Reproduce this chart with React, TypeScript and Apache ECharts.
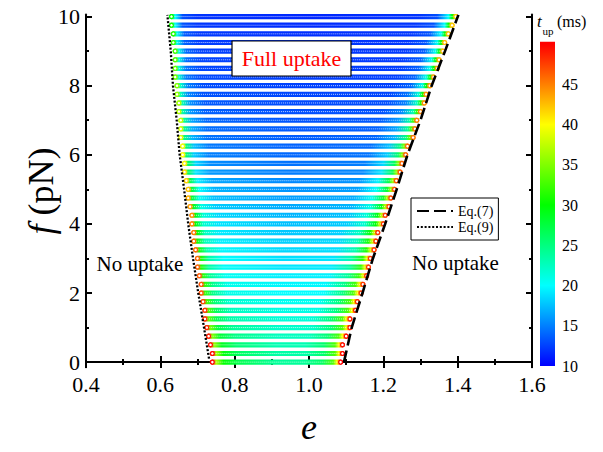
import React, { useEffect, useRef } from "react";
import * as echarts from "echarts";

const SERIF = '"Liberation Serif", "Times New Roman", serif';

// ---- data ----
// force levels of the computed rows (pN)
const fRows = [
  0, 0.25, 0.5, 0.75, 1, 1.25, 1.5, 1.75, 2, 2.25, 2.5, 2.75, 3, 3.25, 3.5, 3.75,
  4, 4.25, 4.5, 4.75, 5, 5.25, 5.5, 5.75, 6, 6.25, 6.5, 6.75, 7, 7.25, 7.5, 7.75,
  8, 8.25, 8.5, 8.75, 9, 9.25, 9.5, 9.75, 10,
];
// first (left-most) computed e of each row
const leftE = [
  0.74, 0.74, 0.735, 0.73, 0.725, 0.72, 0.72, 0.715, 0.71, 0.71, 0.705, 0.7, 0.7,
  0.695, 0.69, 0.69, 0.685, 0.685, 0.68, 0.675, 0.675, 0.67, 0.665, 0.665, 0.66,
  0.66, 0.655, 0.655, 0.655, 0.65, 0.65, 0.645, 0.645, 0.64, 0.64, 0.64, 0.64,
  0.635, 0.635, 0.63, 0.63,
];
// last (right-most) computed e of each row
const rightE = [
  1.085, 1.09, 1.09, 1.1, 1.11, 1.11, 1.125, 1.13, 1.14, 1.145, 1.155, 1.16, 1.165,
  1.175, 1.18, 1.185, 1.2, 1.205, 1.215, 1.22, 1.23, 1.235, 1.245, 1.25, 1.26,
  1.265, 1.28, 1.285, 1.29, 1.3, 1.31, 1.315, 1.325, 1.335, 1.345, 1.35, 1.36,
  1.365, 1.375, 1.385, 1.395,
];

// t_up (ms) readings at a few force levels along each row
const tUpLevelsF = [0, 2, 4, 6, 8, 10];
const tUpLeftEdge = [50, 47, 45, 40, 35, 30];
const tUpLeftIn1 = [37, 32, 30, 26, 22, 20];
const tUpLeftIn3 = [30, 25, 22, 18, 15, 13];
const tUpLeftIn7 = [27, 21, 19, 15, 13, 12];
const tUpMiddle = [24, 20, 17.5, 14, 12.5, 11.5];
const tUpRightIn10 = [24, 20, 18, 14.5, 12.5, 12];
const tUpRightIn5 = [26, 25, 22, 18, 14, 13];
const tUpRightIn2 = [33, 33, 30, 26, 21, 20];
const tUpRightIn1 = [40, 40, 38, 35, 30, 30];
const tUpRightEdge = [50, 48, 48, 46, 44, 42];

// Eq.(7) boundary
const eq7F = [0, 1, 2, 3, 4, 5, 6, 7, 8, 9, 10.05];
const eq7E = [1.094, 1.115, 1.144, 1.172, 1.205, 1.236, 1.265, 1.3, 1.33, 1.366, 1.402];
// Eq.(9) boundary
const eq9F = [0.1, 1, 2, 3, 4, 5, 6, 7, 8, 9, 10.05];
const eq9E = [0.731, 0.7175, 0.702, 0.688, 0.675, 0.664, 0.652, 0.644, 0.634, 0.628, 0.619];

// colour bar
const cbTicks = [10, 15, 20, 25, 30, 35, 40, 45];
const cbMin = 10;
const cbMax = 50.3;
const xTickMin = 0.4;
const xTickMax = 1.6;
const yMajor = [0, 2, 4, 6, 8, 10];
const yMinor = [1, 3, 5, 7, 9];

// colormap
const cmapT = [10, 20, 30, 40, 50];
const cmapRGB = [
  [0, 0, 255],
  [0, 255, 255],
  [0, 255, 0],
  [255, 255, 0],
  [255, 0, 0],
];

function colorOf(t: number): string {
  if (t <= cmapT[0]) return `rgb(${cmapRGB[0].join(",")})`;
  for (let i = 0; i < cmapT.length - 1; i++) {
    if (t <= cmapT[i + 1]) {
      const a = (t - cmapT[i]) / (cmapT[i + 1] - cmapT[i]);
      const c = cmapRGB[i].map((v, k) => Math.round(v + a * (cmapRGB[i + 1][k] - v)));
      return `rgb(${c.join(",")})`;
    }
  }
  return `rgb(${cmapRGB[cmapRGB.length - 1].join(",")})`;
}

function atLevel(arr: number[], f: number): number {
  if (f <= tUpLevelsF[0]) return arr[0];
  for (let i = 0; i < tUpLevelsF.length - 1; i++) {
    if (f <= tUpLevelsF[i + 1]) {
      const a = (f - tUpLevelsF[i]) / (tUpLevelsF[i + 1] - tUpLevelsF[i]);
      return arr[i] + a * (arr[i + 1] - arr[i]);
    }
  }
  return arr[arr.length - 1];
}

export default function App() {
  const ref = useRef<HTMLDivElement>(null);
  useEffect(() => {
    if (!ref.current) return;
    const chart = echarts.init(ref.current, null, { renderer: "svg" });

    const rowData = fRows.map((f, i) => [f, leftE[i], rightE[i]]);

    const renderItem = (params: any, api: any) => {
      const f = api.value(0) as number;
      const eL = api.value(1) as number;
      const eR = api.value(2) as number;
      const pL = api.coord([eL, f]);
      const pR = api.coord([eR, f]);
      const r = 2.6;
      const x0 = pL[0] - r;
      const x1 = pR[0] + r;
      const w = x1 - x0;
      const knots: [number, number][] = [
        [eL, atLevel(tUpLeftEdge, f)],
        [eL + 0.01, atLevel(tUpLeftIn1, f)],
        [eL + 0.03, atLevel(tUpLeftIn3, f)],
        [eL + 0.07, atLevel(tUpLeftIn7, f)],
        [(eL + eR) / 2, atLevel(tUpMiddle, f)],
        [eR - 0.1, atLevel(tUpRightIn10, f)],
        [eR - 0.05, atLevel(tUpRightIn5, f)],
        [eR - 0.02, atLevel(tUpRightIn2, f)],
        [eR - 0.01, atLevel(tUpRightIn1, f)],
        [eR, atLevel(tUpRightEdge, f)],
      ];
      const stops = knots.map(([e, t]) => {
        const px = api.coord([e, f])[0];
        return {
          offset: Math.min(1, Math.max(0, (px - x0) / w)),
          color: colorOf(t),
        };
      });
      const cy = pL[1];
      return {
        type: "group",
        children: [
          {
            type: "rect",
            shape: { x: x0, y: cy - r, width: w, height: 2 * r, r: r },
            style: { fill: new echarts.graphic.LinearGradient(0, 0, 1, 0, stops) },
          },
          {
            type: "line",
            shape: { x1: pL[0] + 2, y1: cy, x2: pR[0] - 2, y2: cy },
            style: { stroke: "rgba(255,255,255,0.75)", lineWidth: 1, lineDash: [1, 1] },
          },
          {
            type: "circle",
            shape: { cx: pL[0], cy, r: 1.9 },
            style: { fill: "#fff", stroke: stops[0].color, lineWidth: 1.3 },
          },
          {
            type: "circle",
            shape: { cx: pR[0], cy, r: 1.9 },
            style: { fill: "#fff", stroke: stops[stops.length - 1].color, lineWidth: 1.3 },
          },
        ],
      };
    };

    const tickLine = { color: "#000", width: 2 };
    const cbStops = cmapT.map((t, i) => ({
      offset: (t - cbMin) / (cbMax - cbMin),
      color: `rgb(${cmapRGB[i].join(",")})`,
    }));

    const option: any = {
      animation: false,
      backgroundColor: "#fff",
      textStyle: { fontFamily: SERIF },
      grid: [
        { left: 86, right: 71, top: 14.5, bottom: 84.7 },
        { left: 540, width: 15, top: 41.7, height: 324.3 },
      ],
      legend: {
        left: 411,
        top: 198,
        orient: "vertical",
        itemWidth: 36,
        itemHeight: 10,
        itemGap: 2,
        padding: [6, 5, 6, 5],
        borderColor: "#000",
        borderWidth: 1,
        borderRadius: 0,
        backgroundColor: "#fff",
        selectedMode: false,
        itemStyle: { opacity: 0 },
        data: ["Eq.(7)", "Eq.(9)"],
        textStyle: { fontFamily: SERIF, fontSize: 14, color: "#000", lineHeight: 12 },
      },
      xAxis: [
        {
          type: "value",
          gridIndex: 0,
          min: xTickMin,
          max: xTickMax,
          interval: 0.2,
          position: "bottom",
          axisLine: { lineStyle: tickLine },
          axisTick: { inside: true, length: 6, lineStyle: tickLine },
          minorTick: { show: true, splitNumber: 2, length: 3, lineStyle: tickLine },
          splitLine: { show: false },
          minorSplitLine: { show: false },
          axisLabel: {
            fontFamily: SERIF,
            fontSize: 22,
            color: "#000",
            margin: 6,
            formatter: (v: number) => v.toFixed(1),
          },
          name: "e",
          nameLocation: "middle",
          nameGap: 42,
          nameMoveOverlap: false,
          nameTextStyle: { fontFamily: SERIF, fontStyle: "italic", fontSize: 36, color: "#000" },
        },
        {
          type: "value",
          gridIndex: 0,
          min: xTickMin,
          max: xTickMax,
          interval: 0.2,
          position: "top",
          axisLine: { lineStyle: tickLine },
          axisTick: { inside: true, length: 6, lineStyle: tickLine },
          minorTick: { show: true, splitNumber: 2, length: 3, lineStyle: tickLine },
          splitLine: { show: false },
          axisLabel: { show: false },
        },
        { type: "value", gridIndex: 1, show: false, min: 0, max: 1 },
      ],
      yAxis: [
        {
          type: "value",
          gridIndex: 0,
          min: -0.15,
          max: 10.06,
          position: "left",
          axisLine: { lineStyle: tickLine },
          axisTick: { inside: true, length: 6, lineStyle: tickLine, customValues: yMajor },
          splitLine: { show: false },
          axisLabel: {
            customValues: yMajor,
            fontFamily: SERIF,
            fontSize: 22,
            color: "#000",
            margin: 6,
          },
          name: "{i|f} (pN)",
          nameLocation: "middle",
          nameGap: 27,
          nameRotate: 90,
          nameMoveOverlap: false,
          nameTextStyle: {
            fontFamily: SERIF,
            fontSize: 36,
            color: "#000",
            rich: { i: { fontFamily: SERIF, fontStyle: "italic", fontSize: 36, color: "#000" } },
          },
        },
        {
          type: "value",
          gridIndex: 0,
          min: -0.15,
          max: 10.06,
          position: "left",
          axisLine: { show: false },
          axisTick: { inside: true, length: 3, lineStyle: tickLine, customValues: yMinor },
          splitLine: { show: false },
          axisLabel: { show: false },
        },
        {
          type: "value",
          gridIndex: 0,
          min: -0.15,
          max: 10.06,
          position: "right",
          axisLine: { lineStyle: tickLine },
          axisTick: { inside: true, length: 6, lineStyle: tickLine, customValues: yMajor },
          splitLine: { show: false },
          axisLabel: { show: false },
        },
        {
          type: "value",
          gridIndex: 0,
          min: -0.15,
          max: 10.06,
          position: "right",
          axisLine: { show: false },
          axisTick: { inside: true, length: 3, lineStyle: tickLine, customValues: yMinor },
          splitLine: { show: false },
          axisLabel: { show: false },
        },
        {
          type: "value",
          gridIndex: 1,
          min: cbMin,
          max: cbMax,
          position: "right",
          axisLine: { show: false },
          axisTick: { show: false },
          splitLine: { show: false },
          axisLabel: {
            customValues: cbTicks,
            fontFamily: SERIF,
            fontSize: 16,
            color: "#000",
            margin: 7,
          },
        },
      ],
      series: [
        {
          type: "custom",
          name: "t_up",
          xAxisIndex: 0,
          yAxisIndex: 0,
          data: rowData,
          encode: { x: [1, 2], y: 0 },
          renderItem,
          z: 2,
          silent: true,
        },
        {
          type: "line",
          name: "Eq.(7)",
          xAxisIndex: 0,
          yAxisIndex: 0,
          data: eq7F.map((f, i) => [eq7E[i], f]),
          symbol: "none",
          lineStyle: { color: "#000", width: 2.6, type: [12, 5] },
          itemStyle: { color: "#000" },
          z: 3,
        },
        {
          type: "line",
          name: "Eq.(9)",
          xAxisIndex: 0,
          yAxisIndex: 0,
          data: eq9F.map((f, i) => [eq9E[i], f]),
          symbol: "none",
          lineStyle: { color: "#000", width: 2.3, type: [2, 1.8] },
          itemStyle: { color: "#000" },
          z: 3,
        },
      ],
      graphic: [
        {
          type: "rect",
          shape: { x: 540, y: 41.7, width: 15, height: 324.3 },
          style: { fill: new echarts.graphic.LinearGradient(0, 1, 0, 0, cbStops) },
          z: 1,
        },
        {
          type: "rect",
          z: 100,
          shape: { x: 232, y: 41, width: 119, height: 35 },
          style: { fill: "#fff", stroke: "#000", lineWidth: 1.2 },
        },
        {
          type: "text",
          z: 101,
          x: 291.5,
          y: 58.5,
          style: {
            text: "Full uptake",
            fill: "#ff0000",
            font: `22px ${SERIF}`,
            align: "center",
            verticalAlign: "middle",
          },
        },
        {
          type: "text",
          x: 140,
          y: 264,
          z: 100,
          style: {
            text: "No uptake",
            fill: "#000",
            font: `21px ${SERIF}`,
            align: "center",
            verticalAlign: "middle",
          },
        },
        {
          type: "text",
          x: 455.5,
          y: 262.5,
          z: 100,
          style: {
            text: "No uptake",
            fill: "#000",
            font: `21px ${SERIF}`,
            align: "center",
            verticalAlign: "middle",
          },
        },
        {
          type: "text",
          x: 537,
          y: 21,
          z: 100,
          style: {
            text: "t",
            fill: "#000",
            font: `italic 17px ${SERIF}`,
            align: "left",
            verticalAlign: "middle",
          },
        },
        {
          type: "text",
          x: 542.5,
          y: 31,
          z: 100,
          style: {
            text: "up",
            fill: "#000",
            font: `11px ${SERIF}`,
            align: "left",
            verticalAlign: "middle",
          },
        },
        {
          type: "text",
          x: 557,
          y: 21,
          z: 100,
          style: {
            text: "(ms)",
            fill: "#000",
            font: `16px ${SERIF}`,
            align: "left",
            verticalAlign: "middle",
          },
        },
      ],
    };

    chart.setOption(option);
    return () => chart.dispose();
  }, []);

  return (
    <div
      ref={ref}
      style={{ position: "fixed", left: 0, top: 0, width: 603, height: 452 }}
    />
  );
}
